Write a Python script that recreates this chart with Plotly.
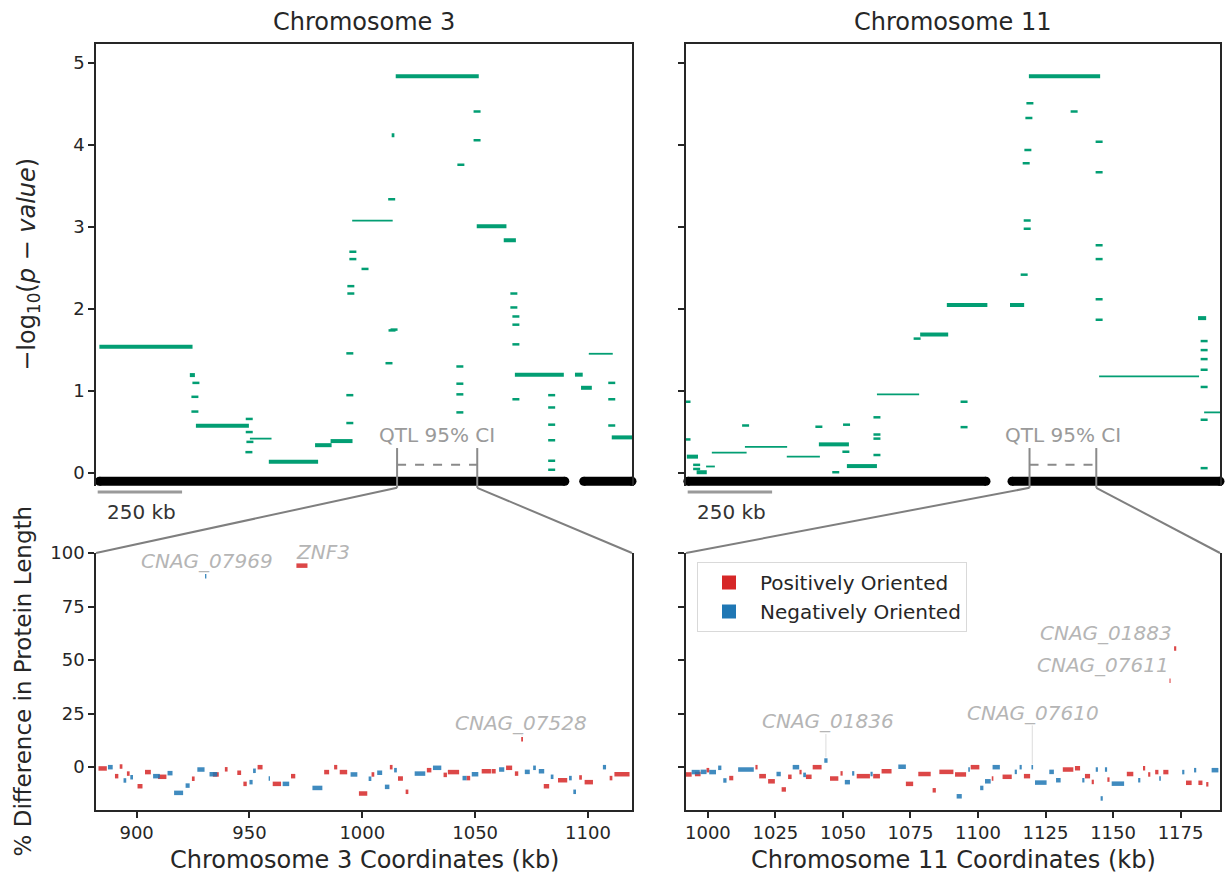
import plotly.graph_objects as go

W, H = 1225, 877
FONT = 'DejaVu Sans'
GREEN = '#029e73'
RED = '#d62728'
BLUE = '#1f77b4'
TXT = '#262626'
GREY = '#8a8a8a'
LABEL_GREY = '#b5b5b5'

# ---------------- axis windows / ticks ----------------
chr3_top_range = [-10, 1578]
chr11_top_range = [-25.5, 1556]
chr3_ci = [882, 1119.5]      # QTL 95% CI (kb) -> zoom window of the lower panel
chr11_ci = [991.9, 1189.6]
y_top_range = [-0.158, 5.24]
y_bot_range = [-20, 100]
top_y_ticks = [0, 1, 2, 3, 4, 5]
bot_y_ticks = [0, 25, 50, 75, 100]
chr3_x_ticks = [900, 950, 1000, 1050, 1100]
chr11_x_ticks = [1000, 1025, 1050, 1075, 1100, 1125, 1150, 1175]

# ---------------- chromosome arms (kb) ----------------
chr3_arm_start = [0, 1435]
chr3_arm_end = [1379, 1578]
chr11_arm_start = [-20, 940]
chr11_arm_end = [863, 1556]

# ---------------- association blocks: chromosome 3 ----------------
chr3_thick_start = [0, 268, 286, 502, 639, 685, 866, 878, 1118, 1198, 1231, 1409, 1427, 1518]
chr3_thick_end = [276, 283, 443, 648, 688, 750, 874, 1124, 1206, 1234, 1376, 1432, 1459, 1583]
chr3_thick_p = [1.54, 1.195, 0.577, 0.138, 0.34, 0.39, 4.12, 4.84, 3.01, 2.84, 1.20, 1.20, 1.04, 0.435]
chr3_thin_start = [446, 749, 1450]
chr3_thin_end = [510, 869, 1521]
chr3_thin_p = [0.42, 3.08, 1.455]
chr3_snp_kb = [286, 283, 283, 444, 444, 446, 443, 742, 742, 742, 745, 745, 751, 751, 787,
               1119, 1119, 1071, 866, 867, 873, 858, 1068, 1068, 1068, 1068,
               1228, 1228, 1234, 1234, 1234, 1234, 1340, 1340, 1340, 1340, 1340, 1340,
               1518, 1518, 1518]
chr3_snp_p = [1.10, 0.93, 0.75, 0.66, 0.50, 0.38, 0.255, 0.61, 0.95, 1.46, 2.19, 2.28, 2.61, 2.70, 2.49,
              4.41, 4.06, 3.76, 3.34, 1.74, 1.75, 1.34, 1.30, 1.09, 0.96, 0.74,
              2.19, 2.02, 1.91, 1.81, 1.57, 0.90, 0.95, 0.80, 0.59, 0.40, 0.15, 0.04,
              1.10, 0.90, 0.58]

# ---------------- association blocks: chromosome 11 ----------------
chr11_thick_start = [-23, 6, 368, 451, 668, 747, 934, 990, 1491]
chr11_thick_end = [10, 36, 457, 540, 751, 867, 976, 1201, 1515]
chr11_thick_p = [0.20, 0.01, 0.35, 0.085, 1.69, 2.05, 2.05, 4.84, 1.89]
chr11_thin_start = [34, 51, 149, 273, 540, 1198, 1509]
chr11_thin_end = [60, 154, 274, 371, 665, 1494, 1562]
chr11_thin_p = [0.08, 0.25, 0.32, 0.20, 0.96, 1.18, 0.74]
chr11_snp_kb = [-22.5, -22.5, 6, 6, 151, 368, 450, 448, 418, 540, 540, 540, 540, 659, 798, 798,
                976, 985, 985, 982, 987, 990, 993, 1124,
                1198, 1198, 1198, 1198, 1198, 1198,
                1509, 1509, 1509, 1509, 1509, 1509, 1509]
chr11_snp_p = [0.87, 0.41, 0.10, 0.05, 0.58, 0.565, 0.59, 0.26, 0.01, 0.22, 0.42, 0.47, 0.68, 1.64, 0.87, 0.56,
               2.42, 3.08, 2.98, 3.78, 3.94, 4.33, 4.51, 4.41,
               4.04, 3.67, 2.78, 2.61, 2.12, 1.87,
               1.61, 1.50, 1.39, 1.26, 1.05, 0.65, 0.06]

# ---------------- genes: chromosome 3 ----------------
chr3_gene_start = [883.1, 887.3, 892.5, 890.4, 894.2, 895.7, 897.2, 900.4, 903.7, 907.3, 909.5, 913.7,
                   916.6, 921.7, 924.5, 926.9, 930.3, 932.3, 933.8, 939.1, 944.6, 947.3, 950.0, 951.6,
                   953.6, 958.5, 960.3, 964.7, 968.4, 970.8, 977.9, 983.1, 987.5, 990.0, 994.8, 998.5,
                   1002.8, 1004.1, 1006.6, 1010.0, 1012.2, 1014.1, 1015.8, 1019.2, 1023.2, 1028.6,
                   1031.3, 1036.0, 1037.9, 1044.4, 1046.2, 1048.5, 1052.9, 1057.3, 1060.6, 1063.7,
                   1067.6, 1070.4, 1072.0, 1075.7, 1078.2, 1080.4, 1083.5, 1086.7, 1091.6, 1093.5,
                   1096.1, 1098.5, 1106.6, 1109.6, 1111.7]
chr3_gene_end = [886.8, 889.4, 893.7, 891.9, 895.4, 896.9, 898.4, 902.6, 906.3, 910.3, 913.2, 915.9,
                 920.6, 923.5, 925.7, 930.1, 930.9, 935.7, 936.4, 940.3, 946.3, 948.8, 951.4, 952.8,
                 955.8, 959.1, 964.0, 967.6, 970.3, 975.7, 982.3, 985.3, 988.9, 993.3, 997.8, 1002.2,
                 1004.0, 1005.3, 1008.8, 1012.0, 1013.4, 1015.3, 1018.0, 1020.4, 1027.9, 1030.6,
                 1035.0, 1037.5, 1042.9, 1046.2, 1047.8, 1051.4, 1057.0, 1059.1, 1062.9, 1066.4,
                 1069.1, 1071.2, 1074.2, 1076.9, 1080.6, 1082.8, 1084.7, 1090.8, 1092.8, 1094.7,
                 1097.3, 1102.2, 1108.0, 1110.8, 1118.4]
chr3_gene_diff = [-0.6, 0.0, 0.3, -4.2, -6.2, -3.0, -4.7, -8.9, -2.3, -4.2, -4.5, -2.8,
                  -12.0, -8.6, -5.4, -1.1, 89.1, -3.3, -3.4, -1.0, -2.6, -7.8, -7.0, -1.7,
                  0.0, -5.3, -7.8, -7.8, -4.2, 94.1, -9.7, -2.3, 0.0, -2.3, -3.4, -12.3,
                  -5.4, -3.4, -2.6, -9.2, 0.0, -1.4, -5.3, -11.5, -3.0, -1.4,
                  -0.3, -3.6, -2.3, -5.1, -5.1, -3.3, -1.9, -1.9, -1.1, -0.3,
                  -3.0, 13.0, -2.2, -0.3, -1.9, -8.9, -4.5, -6.1, -5.1, -11.5,
                  -4.8, -7.0, 0.0, -5.1, -3.3]
chr3_gene_strand = ['+', '-', '+', '+', '-', '+', '-', '+', '+', '-', '+', '-',
                    '-', '-', '+', '-', '-', '-', '+', '+', '+', '+', '-', '-',
                    '+', '-', '+', '-', '+', '+', '-', '+', '+', '+', '-', '+',
                    '-', '+', '-', '-', '+', '-', '+', '+', '-', '+',
                    '-', '+', '+', '-', '+', '-', '+', '+', '-', '+',
                    '+', '+', '-', '-', '-', '+', '-', '+', '-', '-',
                    '+', '+', '-', '+', '+']

# ---------------- genes: chromosome 11 ----------------
chr11_gene_start = [991.5, 994.0, 995.2, 997.3, 999.5, 1000.5, 1003.8, 1005.7, 1007.9, 1011.2, 1017.6,
                    1019.0, 1022.3, 1025.4, 1027.3, 1029.7, 1031.4, 1033.9, 1035.3, 1036.3, 1038.8,
                    1043.1, 1045.2, 1049.1, 1050.7, 1053.4, 1055.1, 1060.2, 1061.2, 1064.3, 1070.5,
                    1073.3, 1077.9, 1083.2, 1085.7, 1091.5, 1092.1, 1096.4, 1097.3, 1100.8, 1102.6,
                    1105.1, 1105.4, 1109.1, 1113.6, 1115.4, 1117.0, 1119.8, 1121.1, 1126.4, 1128.9,
                    1131.4, 1135.9, 1138.6, 1139.6, 1142.1, 1143.6, 1145.4, 1147.0, 1147.9, 1149.5,
                    1155.1, 1159.3, 1161.1, 1163.0, 1165.6, 1167.1, 1168.6, 1170.9, 1172.6, 1175.6,
                    1177.0, 1180.0, 1181.6, 1184.5, 1186.5]
chr11_gene_end = [994.0, 997.0, 997.3, 999.5, 1000.5, 1003.0, 1005.0, 1006.9, 1009.4, 1017.0, 1018.4,
                  1021.5, 1024.8, 1027.0, 1028.9, 1031.0, 1033.8, 1034.7, 1036.3, 1038.4, 1042.1,
                  1044.3, 1048.3, 1049.9, 1052.6, 1054.2, 1060.0, 1061.0, 1063.7, 1068.0, 1073.3,
                  1076.0, 1082.5, 1084.4, 1090.9, 1095.6, 1094.0, 1097.0, 1100.5, 1102.0, 1104.7,
                  1105.7, 1108.1, 1112.5, 1114.4, 1116.2, 1119.3, 1120.4, 1125.4, 1128.1, 1130.6,
                  1135.3, 1137.8, 1139.4, 1141.5, 1142.9, 1144.4, 1146.2, 1147.8, 1148.7, 1154.1,
                  1157.5, 1160.1, 1161.9, 1163.8, 1166.8, 1167.7, 1170.5, 1171.3, 1173.4, 1176.4,
                  1179.1, 1180.8, 1183.1, 1185.3, 1189.0]
chr11_gene_diff = [-3.4, -2.3, -3.2, -2.2, -1.4, -2.3, -0.3, -6.2, -5.1, -1.1, 0.0,
                   -4.2, -6.6, -3.2, -10.4, -4.5, 0.0, -2.3, -3.6, -4.5, 0.0,
                   3.1, -5.3, -2.9, -7.0, -2.9, -4.2, -3.2, -4.2, -1.9, 0.2,
                   -7.8, -3.2, -10.8, -2.2, -3.4, -13.6, -1.1, 0.0, -9.7, -6.6,
                   -5.3, 0.0, -4.5, -2.2, 0.0, -4.2, 0.0, -7.2, -2.2, -6.1,
                   -1.1, -0.5, -6.1, -4.2, -6.9, -1.1, -14.6, -1.1, -5.8, -7.7,
                   -3.2, -6.1, -0.5, -3.4, -2.3, -5.3, -2.3, 40.3, 55.4, -2.3,
                   -7.3, -1.4, -7.3, -8.0, -1.4]
chr11_gene_strand = ['+', '-', '+', '-', '+', '-', '-', '-', '+', '-', '+',
                     '+', '+', '-', '+', '+', '-', '+', '-', '+', '+',
                     '-', '+', '+', '-', '-', '+', '-', '+', '+', '-',
                     '+', '+', '+', '+', '+', '-', '-', '+', '-', '-',
                     '+', '-', '+', '-', '-', '+', '-', '-', '-', '-',
                     '+', '+', '-', '+', '+', '-', '-', '-', '+', '-',
                     '+', '-', '+', '+', '+', '-', '+', '+', '+', '-',
                     '+', '-', '+', '+', '-']

# ---------------- gene labels: (name, gene kb, gene value, label kb, label value, connector) ----------
chr3_labels = [('CNAG_07969', 930.6, 89.1, 931.2, 96.4, False),
               ('ZNF3', 973.2, 94.1, 982.6, 100.7, False),
               ('CNAG_07528', 1070.8, 13.0, 1070.2, 20.8, True)]
chr11_labels = [('CNAG_01836', 1043.7, 3.1, 1044.4, 21.5, True),
                ('CNAG_07610', 1120.1, 0.0, 1120.4, 25.5, True),
                ('CNAG_01883', 1173.0, 55.4, 1147.4, 62.5, False),
                ('CNAG_07611', 1171.1, 40.3, 1146.3, 47.6, False)]

# ---------------- layout geometry (style) ----------------
DOM_L = [96 / W, 632 / W]
DOM_R = [686 / W, 1220 / W]
DOM_TOP = [1 - 486 / H, 1 - 43.5 / H]
DOM_BOT = [1 - 810 / H, 1 - 553 / H]
CI_BRACKET_TOP = 0.305
CI_DASH_Y = 0.10
CI_BRACKET_BOTTOM = -0.18
CI_TEXT_Y = 0.46
SCALE_Y = -0.23
SCALE_TEXT_Y = -0.47
SCALE_KB = 250
F_TITLE = 24
F_TICK = 18
F_TEXT = 20


def to_paper(v, rng, dom):
    return dom[0] + (v - rng[0]) / (rng[1] - rng[0]) * (dom[1] - dom[0])


def segs(starts, ends, vals):
    xs, ys = [], []
    for a, b, v in zip(starts, ends, vals):
        xs += [a, b, None]
        ys += [v, v, None]
    return xs, ys


fig = go.Figure()


def add_top(xa, ya, arm_s, arm_e, tk_s, tk_e, tk_p, tn_s, tn_e, tn_p, snp_x, snp_p):
    x, y = segs(tn_s, tn_e, tn_p)
    fig.add_trace(go.Scatter(x=x, y=y, mode='lines', line=dict(color=GREEN, width=1.8),
                             xaxis=xa, yaxis=ya, showlegend=False, hoverinfo='skip'))
    x, y = segs(tk_s, tk_e, tk_p)
    fig.add_trace(go.Scatter(x=x, y=y, mode='lines', line=dict(color=GREEN, width=4),
                             xaxis=xa, yaxis=ya, showlegend=False, hoverinfo='skip'))
    fig.add_trace(go.Scatter(x=snp_x, y=snp_p, mode='markers',
                             marker=dict(symbol='line-ew', size=5, color=GREEN,
                                         line=dict(color=GREEN, width=2.5)),
                             xaxis=xa, yaxis=ya, showlegend=False, hoverinfo='skip'))
    for a, b in zip(arm_s, arm_e):
        fig.add_trace(go.Scatter(x=[a, b], y=[-0.1, -0.1], mode='lines+markers',
                                 line=dict(color='black', width=9),
                                 marker=dict(color='black', size=9, symbol='circle'),
                                 cliponaxis=False,
                                 xaxis=xa, yaxis=ya, showlegend=False, hoverinfo='skip'))


def add_genes(xa, ya, g_s, g_e, g_d, g_str):
    for strand, col in (('+', RED), ('-', BLUE)):
        s = [a for a, t in zip(g_s, g_str) if t == strand]
        e = [b for b, t in zip(g_e, g_str) if t == strand]
        d = [v for v, t in zip(g_d, g_str) if t == strand]
        x, y = segs(s, e, d)
        fig.add_trace(go.Scatter(x=x, y=y, mode='lines', line=dict(color=col, width=4.5),
                                 opacity=0.85, xaxis=xa, yaxis=ya, showlegend=False,
                                 hoverinfo='skip'))


add_top('x', 'y', chr3_arm_start, chr3_arm_end, chr3_thick_start, chr3_thick_end, chr3_thick_p,
        chr3_thin_start, chr3_thin_end, chr3_thin_p, chr3_snp_kb, chr3_snp_p)
add_top('x2', 'y2', chr11_arm_start, chr11_arm_end, chr11_thick_start, chr11_thick_end, chr11_thick_p,
        chr11_thin_start, chr11_thin_end, chr11_thin_p, chr11_snp_kb, chr11_snp_p)
add_genes('x3', 'y3', chr3_gene_start, chr3_gene_end, chr3_gene_diff, chr3_gene_strand)
add_genes('x4', 'y4', chr11_gene_start, chr11_gene_end, chr11_gene_diff, chr11_gene_strand)

# connectors for labels
for labels, xa, ya in ((chr3_labels, 'x3', 'y3'), (chr11_labels, 'x4', 'y4')):
    for name, gx, gy, tx, ty, conn in labels:
        if conn:
            fig.add_trace(go.Scatter(x=[gx, gx], y=[gy + 1.5, ty - 6], mode='lines',
                                     line=dict(color='#dcdcdc', width=1), xaxis=xa, yaxis=ya,
                                     showlegend=False, hoverinfo='skip'))

# legend entries
fig.add_trace(go.Scatter(x=[None], y=[None], mode='markers', name='Positively Oriented',
                         marker=dict(symbol='square', size=14, color=RED),
                         xaxis='x4', yaxis='y4', legendgroup='a'))
fig.add_trace(go.Scatter(x=[None], y=[None], mode='markers', name='Negatively Oriented',
                         marker=dict(symbol='square', size=14, color=BLUE),
                         xaxis='x4', yaxis='y4', legendgroup='b'))

shapes, annotations = [], []
panels = [(chr3_top_range, chr3_ci, DOM_L, 'Chromosome 3'),
          (chr11_top_range, chr11_ci, DOM_R, 'Chromosome 11')]
for trng, ci, dom, title in panels:
    x0 = to_paper(ci[0], trng, dom)
    x1 = to_paper(ci[1], trng, dom)
    yb = to_paper(CI_BRACKET_BOTTOM, y_top_range, DOM_TOP)
    yt = to_paper(CI_BRACKET_TOP, y_top_range, DOM_TOP)
    yd = to_paper(CI_DASH_Y, y_top_range, DOM_TOP)
    ybot_top = to_paper(y_bot_range[1], y_bot_range, DOM_BOT)
    line = dict(color=GREY, width=2)
    shapes += [
        dict(type='line', xref='paper', yref='paper', x0=x0, x1=x0, y0=yb, y1=yt, line=line),
        dict(type='line', xref='paper', yref='paper', x0=x1, x1=x1, y0=yb, y1=yt, line=line),
        dict(type='line', xref='paper', yref='paper', x0=x0, x1=x1, y0=yd, y1=yd,
             line=dict(color=GREY, width=2, dash='dash')),
        dict(type='line', xref='paper', yref='paper', x0=x0, x1=dom[0], y0=yb, y1=ybot_top,
             line=dict(color='#7f7f7f', width=2)),
        dict(type='line', xref='paper', yref='paper', x0=x1, x1=dom[1], y0=yb, y1=ybot_top,
             line=dict(color='#7f7f7f', width=2)),
    ]
    ys = to_paper(SCALE_Y, y_top_range, DOM_TOP)
    shapes.append(dict(type='line', xref='paper', yref='paper',
                       x0=to_paper(trng[0] + 5, trng, dom), x1=to_paper(trng[0] + 5 + SCALE_KB, trng, dom),
                       y0=ys, y1=ys, line=dict(color='#9a9a9a', width=3)))
    annotations.append(dict(xref='paper', yref='paper',
                            x=to_paper(trng[0] + 27, trng, dom),
                            y=to_paper(SCALE_TEXT_Y, y_top_range, DOM_TOP),
                            text='%d kb' % SCALE_KB, showarrow=False, xanchor='left', yanchor='middle',
                            font=dict(family=FONT, size=F_TEXT, color='#333333')))
    annotations.append(dict(xref='paper', yref='paper',
                            x=to_paper((ci[0] + ci[1]) / 2, trng, dom),
                            y=to_paper(CI_TEXT_Y, y_top_range, DOM_TOP),
                            text='QTL 95% CI', showarrow=False, xanchor='center', yanchor='middle',
                            font=dict(family=FONT, size=F_TEXT, color='#9a9a9a')))
    annotations.append(dict(xref='paper', yref='paper', x=(dom[0] + dom[1]) / 2, y=1 - 22 / H,
                            text=title, showarrow=False, xanchor='center', yanchor='middle',
                            font=dict(family=FONT, size=F_TITLE, color=TXT)))

for labels, rng, dom in ((chr3_labels, chr3_ci, DOM_L), (chr11_labels, chr11_ci, DOM_R)):
    for name, gx, gy, tx, ty, conn in labels:
        annotations.append(dict(xref='paper', yref='paper', x=to_paper(tx, rng, dom),
                                y=to_paper(ty, y_bot_range, DOM_BOT), text='<i>%s</i>' % name,
                                showarrow=False, xanchor='center', yanchor='middle',
                                font=dict(family=FONT, size=F_TEXT, color=LABEL_GREY)))

# axis titles
annotations += [
    dict(xref='paper', yref='paper', x=29 / W, y=(DOM_TOP[0] + DOM_TOP[1]) / 2,
         text='\u2212log<sub>10</sub>(<i>p</i> \u2212 <i>value</i>)', textangle=-90, showarrow=False,
         xanchor='center', yanchor='middle', font=dict(family=FONT, size=F_TITLE, color=TXT)),
    dict(xref='paper', yref='paper', x=23 / W, y=(DOM_BOT[0] + DOM_BOT[1]) / 2,
         text='% Difference in Protein Length', textangle=-90, showarrow=False,
         xanchor='center', yanchor='middle', font=dict(family=FONT, size=23, color=TXT)),
    dict(xref='paper', yref='paper', x=(DOM_L[0] + DOM_L[1]) / 2, y=1 - 860 / H,
         text='Chromosome 3 Coordinates (kb)', showarrow=False,
         xanchor='center', yanchor='middle', font=dict(family=FONT, size=F_TITLE, color=TXT)),
    dict(xref='paper', yref='paper', x=(DOM_R[0] + DOM_R[1]) / 2, y=1 - 860 / H,
         text='Chromosome 11 Coordinates (kb)', showarrow=False,
         xanchor='center', yanchor='middle', font=dict(family=FONT, size=F_TITLE, color=TXT)),
]

axis_common = dict(showgrid=False, zeroline=False, linecolor=TXT, linewidth=1.5,
                   tickcolor=TXT, tickwidth=1.5, ticklen=6, automargin=False,
                   tickfont=dict(family=FONT, size=F_TICK, color=TXT))


def top_x(dom, rng, anchor):
    return dict(axis_common, domain=dom, range=rng, anchor=anchor, side='top', showline=True,
                ticks='', showticklabels=False)


def top_y(rng, anchor, labels):
    return dict(axis_common, domain=DOM_TOP, range=rng, anchor=anchor, showline=True, mirror=True,
                ticks='outside', tickvals=top_y_ticks, showticklabels=labels)


def bot_x(dom, rng, anchor, ticks):
    return dict(axis_common, domain=dom, range=rng, anchor=anchor, showline=True, ticks='outside',
                tickvals=ticks)


def bot_y(anchor, labels):
    return dict(axis_common, domain=DOM_BOT, range=y_bot_range, anchor=anchor, showline=True,
                mirror=True, ticks='outside', tickvals=bot_y_ticks, showticklabels=labels)


fig.update_layout(
    width=W, height=H, margin=dict(l=0, r=0, t=0, b=0, pad=0, autoexpand=False),
    paper_bgcolor='white', plot_bgcolor='white',
    font=dict(family=FONT, color=TXT),
    xaxis=top_x(DOM_L, chr3_top_range, 'y'),
    yaxis=top_y(y_top_range, 'x', True),
    xaxis2=top_x(DOM_R, chr11_top_range, 'y2'),
    yaxis2=top_y(y_top_range, 'x2', False),
    xaxis3=bot_x(DOM_L, chr3_ci, 'y3', chr3_x_ticks),
    yaxis3=bot_y('x3', True),
    xaxis4=bot_x(DOM_R, chr11_ci, 'y4', chr11_x_ticks),
    yaxis4=bot_y('x4', False),
    shapes=shapes, annotations=annotations,
    showlegend=True,
    legend=dict(x=697 / W, y=1 - 562 / H, xanchor='left', yanchor='top', bgcolor='white',
                bordercolor='#d9d9d9', borderwidth=1, traceorder='grouped', tracegroupgap=0,
                itemwidth=52, font=dict(family=FONT, size=F_TEXT, color=TXT)),
)

fig.write_html('out.html')
